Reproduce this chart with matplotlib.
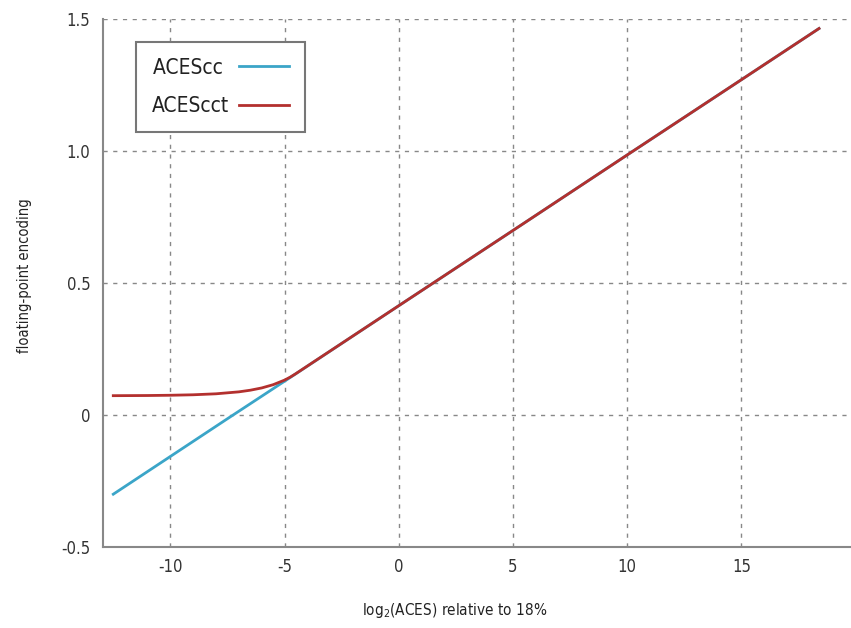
import matplotlib
matplotlib.use("Agg")
import matplotlib.pyplot as plt

# condensed DejaVu is close to the narrow face of the original
plt.rcParams["font.family"] = ["DejaVu Sans"]
plt.rcParams["font.stretch"] = "condensed"
plt.rcParams["axes.unicode_minus"] = False

# log2(ACES) relative to 18%
acescc_x = [-12.5, -10, -7.5, -5, 0, 5, 10, 15, 18.4]
acescc_y = [-0.300, -0.157, -0.014, 0.128, 0.414, 0.699, 0.985, 1.270, 1.464]

acescct_x = [-12.5, -11, -10, -9, -8, -7, -6.5, -6, -5.5, -5, -4.75, -4.53, 0, 5, 10, 15, 18.4]
acescct_y = [0.0732, 0.0738, 0.0748, 0.0766, 0.0803, 0.0877, 0.0939, 0.1025, 0.1148, 0.1322,
             0.1436, 0.1553, 0.414, 0.699, 0.985, 1.270, 1.464]

x_ticks = [-10, -5, 0, 5, 10, 15]
y_ticks = [-0.5, 0, 0.5, 1.0, 1.5]
y_ticklabels = ["-0.5", "0", "0.5", "1.0", "1.5"]

fig = plt.figure(figsize=(8.51, 6.28), dpi=100)
ax = fig.add_axes([103 / 851, 1 - 547 / 628, 1 - 103 / 851, (547 - 19) / 628])

ax.plot(acescc_x, acescc_y, color="#3ba5c8", lw=2, label="ACEScc ")
ax.plot(acescct_x, acescct_y, color="#b3302e", lw=2, label="ACEScct")

ax.set_xlim(-12.95, 19.8)
ax.set_ylim(-0.5, 1.5)
ax.set_xticks(x_ticks)
ax.set_yticks(y_ticks)
ax.set_yticklabels(y_ticklabels)
ax.tick_params(length=0, labelsize=12, colors="#333333")
ax.tick_params(axis="x", pad=8)
ax.tick_params(axis="y", pad=9)

ax.grid(True, ls=(0, (3, 4)), color="#888888", lw=1)
for s in ["top", "right"]:
    ax.spines[s].set_visible(False)
for s in ["left", "bottom"]:
    ax.spines[s].set_color("#888888")
    ax.spines[s].set_linewidth(1.5)

leg = ax.legend(loc="upper left", bbox_to_anchor=((136 - 103) / 748, 1 - (42 - 19) / 528),
                borderaxespad=0, markerfirst=False, fontsize=15, fancybox=False,
                framealpha=1, edgecolor="#777777", handlelength=2.4, labelspacing=0.9,
                borderpad=0.75, handletextpad=0.5)
leg.get_frame().set_linewidth(1.5)
for t in leg.get_texts():
    t.set_color("#222222")

fig.text(455 / 851, 1 - 610 / 628, "log$_2$(ACES) relative to 18%", ha="center", va="center",
         fontsize=11, color="#222222")
fig.text(25 / 851, 1 - 276 / 628, "floating-point encoding", rotation=90, ha="center",
         va="center", fontsize=10.5, color="#222222")

fig.savefig("out.png", dpi=100)
